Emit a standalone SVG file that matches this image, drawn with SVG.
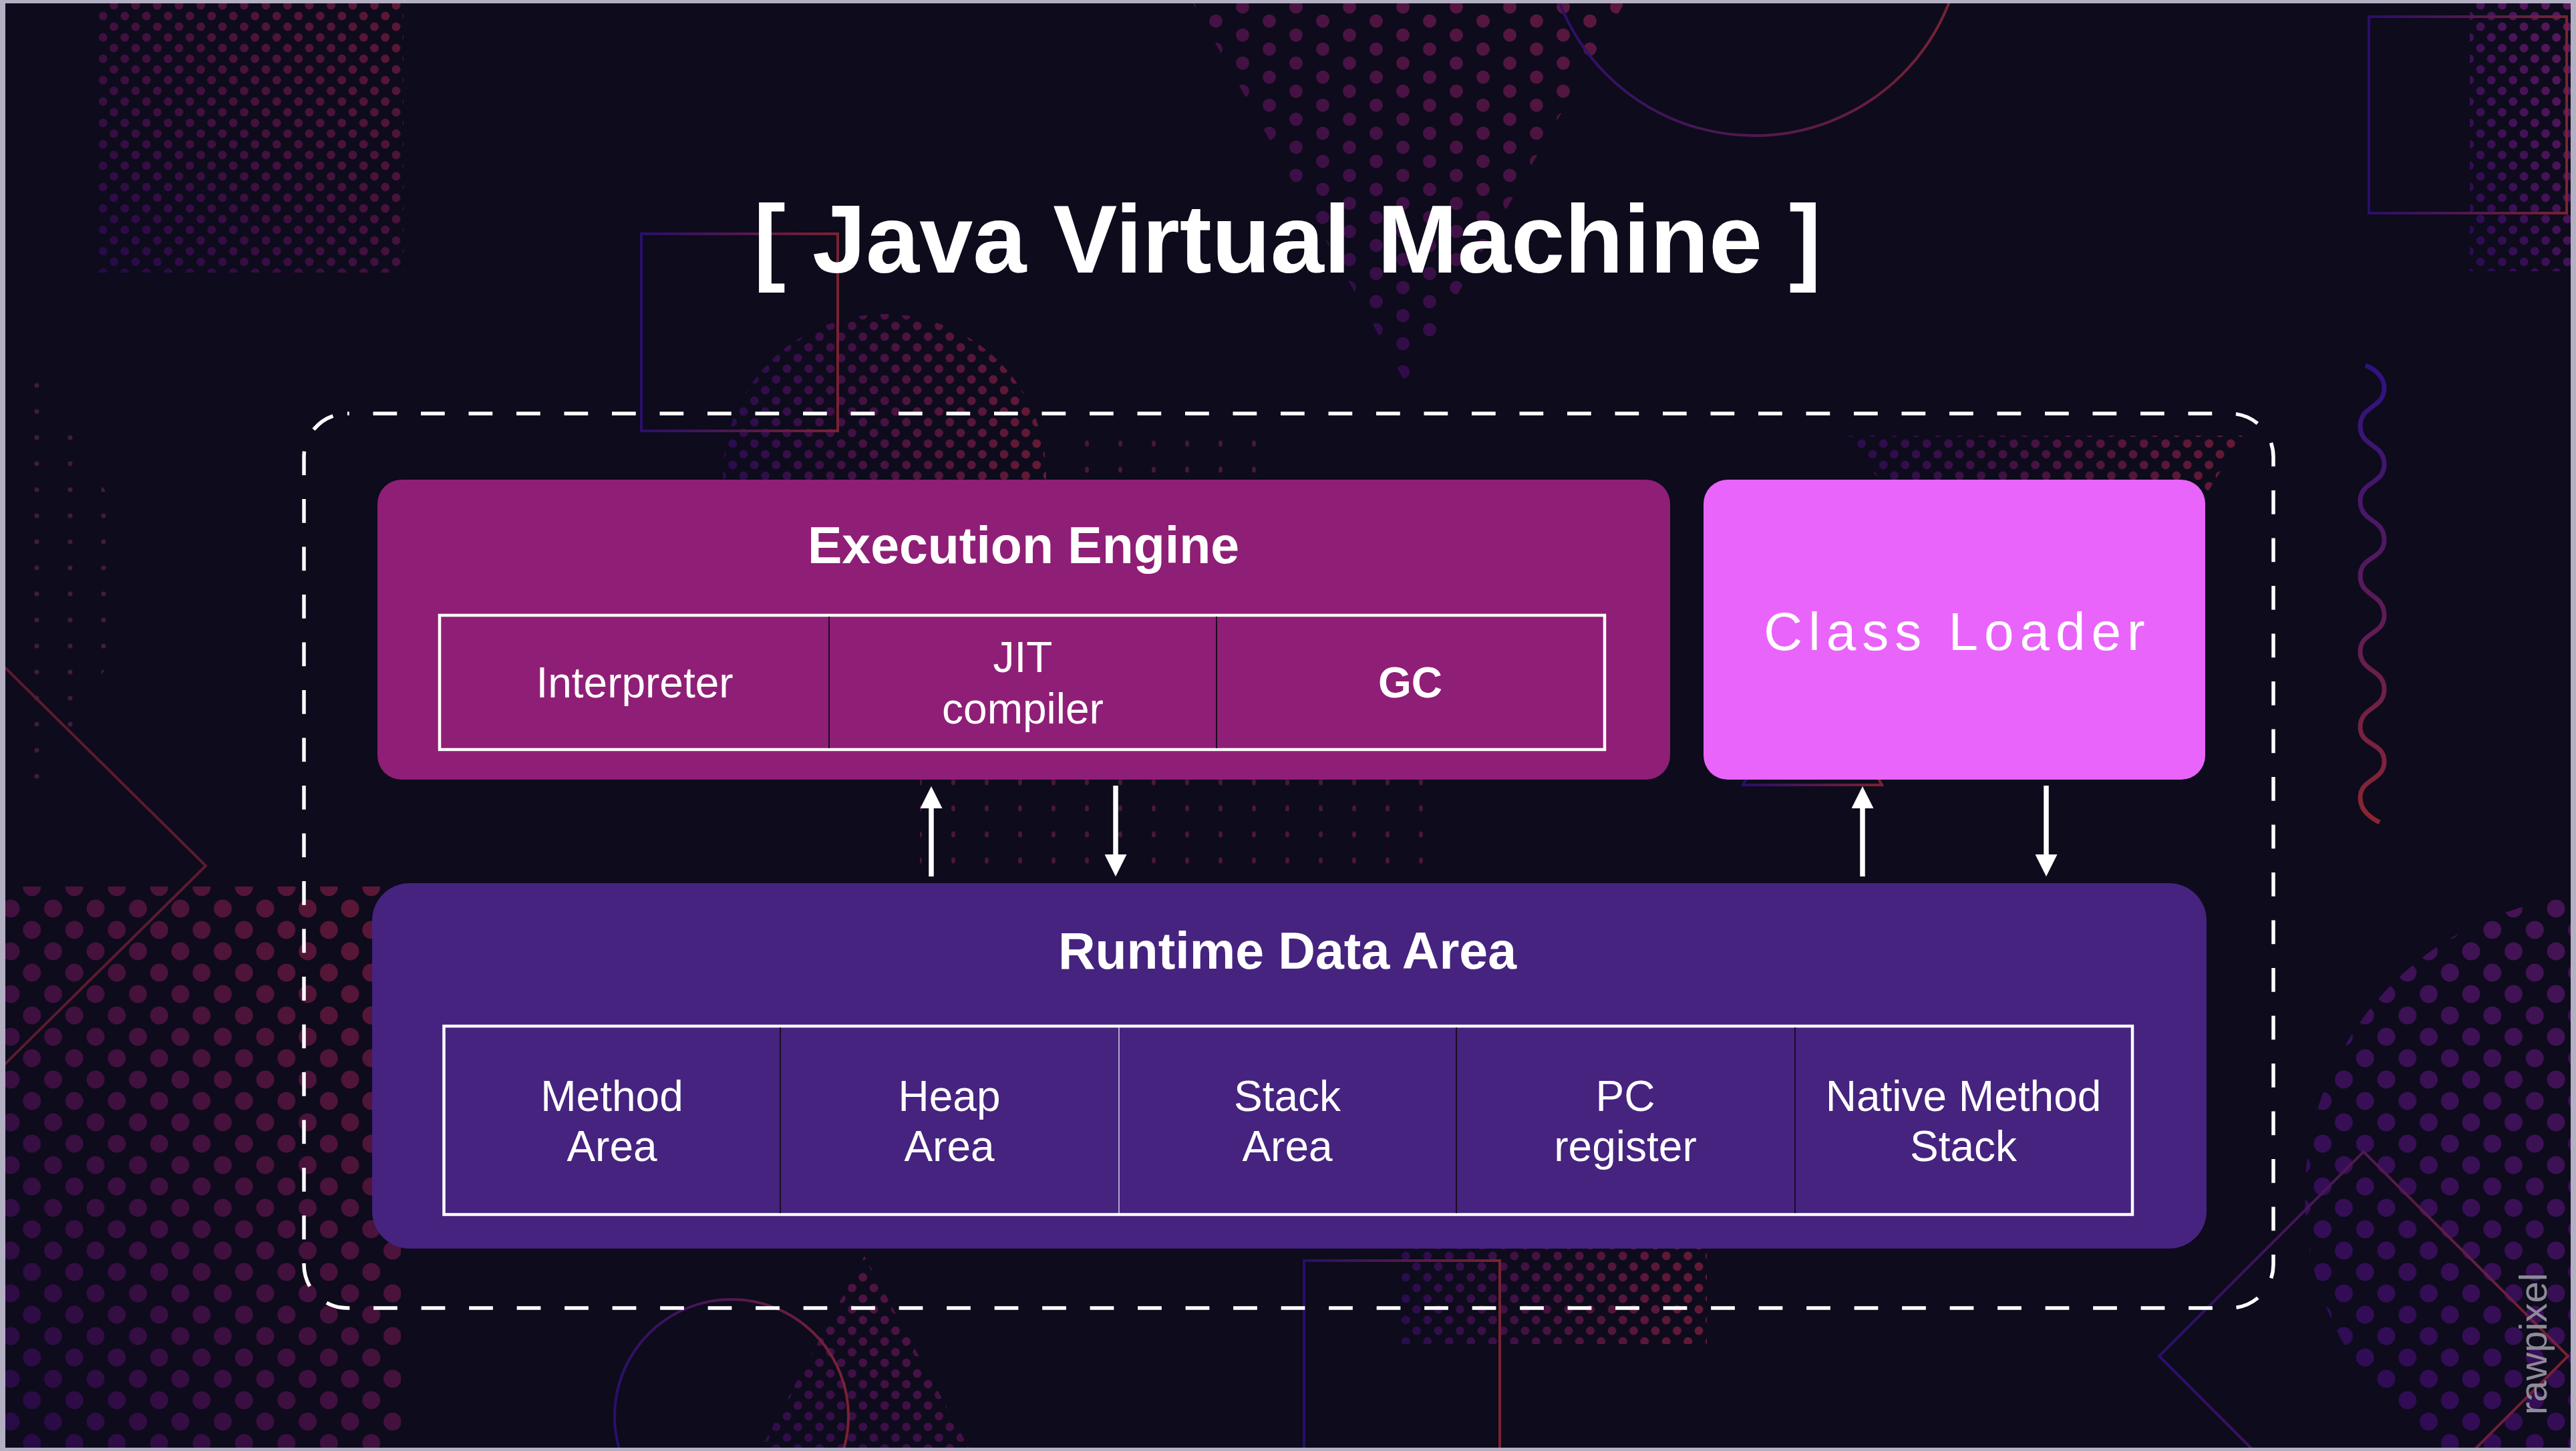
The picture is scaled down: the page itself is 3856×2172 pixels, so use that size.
<svg xmlns="http://www.w3.org/2000/svg" width="3856" height="2172" viewBox="0 0 3856 2172">
<style>
.txt{font-family:"Liberation Sans",Arial,Helvetica,sans-serif;fill:#ffffff;text-anchor:middle}
.title{font-size:144px;font-weight:bold}
.head{font-size:77px;font-weight:bold}
.cell{font-size:64px}
.cellb{font-size:64px;font-weight:bold}
.cl{font-size:80px;letter-spacing:9px}
.tbl{fill:none;stroke:#ffffff;stroke-width:4.5}
.div{stroke:#1c0b22;stroke-width:2}
.divl{stroke:#d9cfe8;stroke-width:1.5}
.conn{stroke:#ffffff;stroke-width:7.5;fill:none}
.ol{fill:none;stroke-width:4}
.frame{fill:none;stroke:#ffffff;stroke-width:5.5;stroke-dasharray:35.75 35.75;stroke-dashoffset:33}
</style>
<defs>
  <pattern id="pS" width="32.5" height="32" patternUnits="userSpaceOnUse"><circle cx="8" cy="8" r="6.5" fill="#fff"/><circle cx="24.25" cy="24" r="6.5" fill="#fff"/></pattern>
  <pattern id="pM" width="80" height="42" patternUnits="userSpaceOnUse"><circle cx="20" cy="10.5" r="10" fill="#fff"/><circle cx="60" cy="31.5" r="10" fill="#fff"/></pattern>
  <pattern id="pL" width="63.5" height="64" patternUnits="userSpaceOnUse"><circle cx="16" cy="16" r="13.5" fill="#fff"/><circle cx="47.75" cy="48" r="13.5" fill="#fff"/></pattern>
  <pattern id="pF1" x="1352" y="1151.5" width="50" height="39" patternUnits="userSpaceOnUse"><ellipse cx="25" cy="19.5" rx="3" ry="4.5" fill="#4a173c"/></pattern>
  <pattern id="pF2" x="30" y="557.5" width="50" height="39" patternUnits="userSpaceOnUse"><ellipse cx="25" cy="19.5" rx="3.5" ry="3.5" fill="#431c40"/></pattern>
  <mask id="mS" maskUnits="userSpaceOnUse" x="0" y="0" width="3856" height="2172"><rect width="3856" height="2172" fill="url(#pS)"/></mask>
  <mask id="mM" maskUnits="userSpaceOnUse" x="0" y="0" width="3856" height="2172"><rect width="3856" height="2172" fill="url(#pM)"/></mask>
  <mask id="mL" maskUnits="userSpaceOnUse" x="0" y="0" width="3856" height="2172"><rect width="3856" height="2172" fill="url(#pL)"/></mask>
  <linearGradient id="gBLTR" x1="0" y1="1" x2="1" y2="0"><stop offset="0" stop-color="#260a48"/><stop offset="1" stop-color="#5e1834"/></linearGradient>
  <linearGradient id="gH" x1="0" y1="0" x2="1" y2="0"><stop offset="0" stop-color="#2a0c4e"/><stop offset="1" stop-color="#661a34"/></linearGradient>
  <linearGradient id="gTri" x1="0.2" y1="1" x2="0.9" y2="0"><stop offset="0" stop-color="#280a4c"/><stop offset="1" stop-color="#5c183e"/></linearGradient>
  <linearGradient id="gTR" x1="0" y1="1" x2="1" y2="0"><stop offset="0" stop-color="#280b50"/><stop offset="1" stop-color="#5e1a5c"/></linearGradient>
  <linearGradient id="gBR" x1="0" y1="1" x2="1" y2="0"><stop offset="0" stop-color="#2a0a56"/><stop offset="1" stop-color="#501854"/></linearGradient>
  <linearGradient id="gOL" x1="0" y1="0" x2="1" y2="0"><stop offset="0" stop-color="#2a0f6a"/><stop offset="1" stop-color="#7a2232"/></linearGradient>
  <linearGradient id="gWave" gradientUnits="userSpaceOnUse" x1="0" y1="547" x2="0" y2="1231"><stop offset="0" stop-color="#2e1280"/><stop offset="0.5" stop-color="#5a1a5a"/><stop offset="1" stop-color="#8a2630"/></linearGradient>
  <clipPath id="inner"><rect x="8" y="5" width="3840" height="2162"/></clipPath>
  <marker id="ah" markerUnits="userSpaceOnUse" markerWidth="33" markerHeight="33" viewBox="0 0 33 33" refX="0" refY="16.5" orient="auto"><path d="M0,0 L33,16.5 L0,33 Z" fill="#ffffff"/></marker>
</defs>

<rect width="3856" height="2172" fill="#b4b0c3"/>
<rect x="8" y="5" width="3840" height="2162" fill="#0d0b1c"/>

<g id="background" clip-path="url(#inner)">
  <rect x="146" y="0" width="458" height="408" fill="url(#gBLTR)" mask="url(#mS)"/>
  <polygon points="1783,0 2434,0 2105,575" fill="url(#gTri)" mask="url(#mM)"/>
  <circle cx="1324" cy="712" r="242" fill="url(#gH)" mask="url(#mS)"/>
  <polygon points="2766,652 3357,652 3080,1100" fill="url(#gH)" mask="url(#mS)"/>
  <rect x="3697" y="0" width="160" height="406" fill="url(#gTR)" mask="url(#mS)"/>
  <rect x="0" y="1327" width="600" height="845" fill="url(#gBLTR)" mask="url(#mL)"/>
  <circle cx="3900" cy="1790" r="450" fill="url(#gBR)" mask="url(#mL)"/>
  <polygon points="1294,1880 1100,2240 1490,2240" fill="url(#gTri)" mask="url(#mS)"/>
  <rect x="2096" y="1869" width="459" height="143" fill="url(#gH)" mask="url(#mS)"/>
  <rect x="1377" y="1160" width="753" height="150" fill="url(#pF1)"/>
  <rect x="1600" y="655" width="290" height="60" fill="url(#pF1)"/>
  <polygon points="40,560 70,560 170,760 170,975 70,1175 40,1175" fill="url(#pF2)"/>
  <rect x="960" y="350" width="294" height="295" class="ol" stroke="url(#gOL)"/>
  <rect x="3546" y="25" width="296" height="294" class="ol" stroke="url(#gOL)"/>
  <rect x="1952" y="1887" width="293" height="400" class="ol" stroke="url(#gOL)"/>
  <circle cx="2626" cy="-110" r="313" class="ol" stroke="url(#gOL)"/>
  <circle cx="1095" cy="2120" r="175" class="ol" stroke="url(#gOL)" stroke-width="3"/>
  <polygon points="2609,1175 2817,1175 2713,990" class="ol" stroke="url(#gOL)"/>
  <polygon points="3538,1724 3844,2030 3538,2336 3232,2030" class="ol" stroke="url(#gOL)"/>
  <polyline points="-10,982 308,1296 -10,1610" class="ol" stroke="#5c1a30"/>
  <path d="M3541,547 C3555,552 3569,565 3569,580 C3569,612 3533,606 3533,638 C3533,669 3569,664 3569,695 C3569,725 3533,720 3533,750 C3533,782 3569,776 3569,808 C3569,838 3533,832 3533,862 C3533,894 3569,888 3569,921 C3569,950 3533,946 3533,975 C3533,1006 3569,1001 3569,1032 C3569,1062 3533,1058 3533,1088 C3533,1118 3569,1110 3569,1140 C3569,1169 3533,1165 3533,1194 C3533,1212 3548,1224 3562,1231" fill="none" stroke="url(#gWave)" stroke-width="7"/>
  <text transform="translate(3812,2118) rotate(-90)" font-family="Liberation Sans, Arial, sans-serif" font-size="58" fill="#8d8b98">rawpixel</text>
</g>

<text id="title" class="txt title" x="1927" y="408">[ Java Virtual Machine ]</text>

<rect id="jvm-frame" class="frame" x="455" y="619" width="2948" height="1339" rx="65" ry="65"/>

<g id="execution-engine">
  <rect x="565" y="718" width="1935" height="449" rx="36" ry="36" fill="#8f1e76"/>
  <text class="txt head" x="1532" y="843">Execution Engine</text>
  <rect class="tbl" x="658" y="921" width="1744" height="201"/>
  <line class="div" x1="1241" y1="923" x2="1241" y2="1120"/>
  <line class="div" x1="1821" y1="923" x2="1821" y2="1120"/>
  <g id="interpreter"><text class="txt cell" x="950" y="1044">Interpreter</text></g>
  <g id="jit-compiler"><text class="txt cell" x="1531" y="1006">JIT</text><text class="txt cell" x="1531" y="1083">compiler</text></g>
  <g id="gc"><text class="txt cellb" x="2111" y="1044">GC</text></g>
</g>

<g id="class-loader">
  <rect x="2550" y="718" width="751" height="449" rx="36" ry="36" fill="#e964fa"/>
  <text class="txt cl" x="2930" y="973">Class Loader</text>
</g>

<g id="runtime-data-area">
  <rect x="557" y="1322" width="2746" height="547" rx="56" ry="56" fill="#45237f"/>
  <text class="txt head" x="1927" y="1450">Runtime Data Area</text>
  <rect class="tbl" x="664.5" y="1536" width="2527.5" height="282"/>
  <line class="div" x1="1168" y1="1538" x2="1168" y2="1816"/>
  <line class="divl" x1="1675" y1="1538" x2="1675" y2="1816"/>
  <line class="div" x1="2180" y1="1538" x2="2180" y2="1816"/>
  <line class="div" x1="2687" y1="1538" x2="2687" y2="1816"/>
  <g id="method-area"><text class="txt cell" x="916" y="1663">Method</text><text class="txt cell" x="916" y="1738">Area</text></g>
  <g id="heap-area"><text class="txt cell" x="1421" y="1663">Heap</text><text class="txt cell" x="1421" y="1738">Area</text></g>
  <g id="stack-area"><text class="txt cell" x="1927" y="1663">Stack</text><text class="txt cell" x="1927" y="1738">Area</text></g>
  <g id="pc-register"><text class="txt cell" x="2433" y="1663">PC</text><text class="txt cell" x="2433" y="1738">register</text></g>
  <g id="native-method-stack"><text class="txt cell" x="2939" y="1663">Native Method</text><text class="txt cell" x="2939" y="1738">Stack</text></g>
</g>

<g id="connectors">
  <line class="conn" x1="1394" y1="1312" x2="1394" y2="1210" marker-end="url(#ah)"/>
  <line class="conn" x1="1670" y1="1176" x2="1670" y2="1279" marker-end="url(#ah)"/>
  <line class="conn" x1="2788" y1="1312" x2="2788" y2="1210" marker-end="url(#ah)"/>
  <line class="conn" x1="3063" y1="1176" x2="3063" y2="1279" marker-end="url(#ah)"/>
</g>
</svg>
